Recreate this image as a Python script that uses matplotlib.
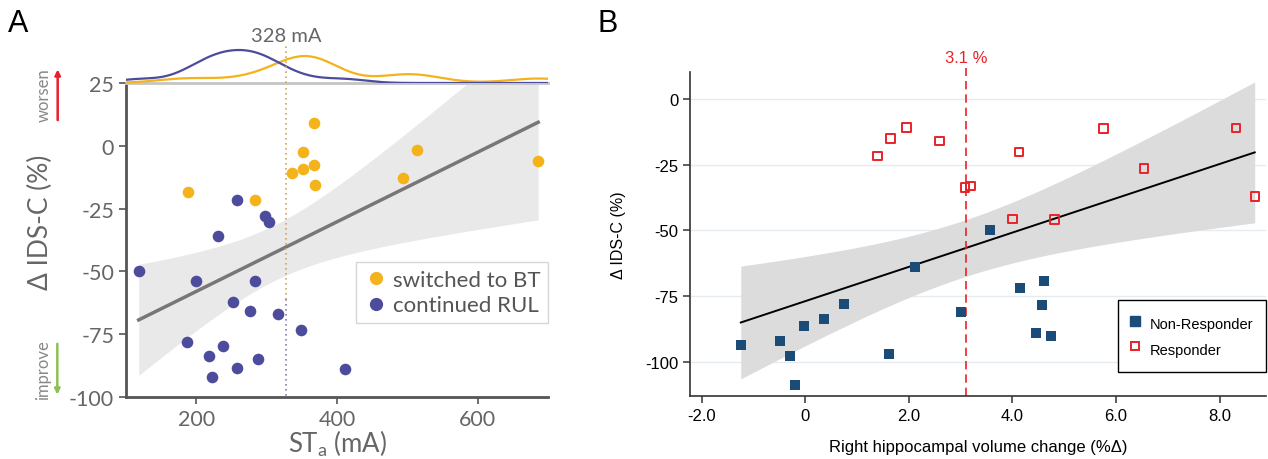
import numpy as np
import matplotlib.pyplot as plt
from matplotlib.lines import Line2D
import matplotlib.transforms as mtransforms

# ---- panel A data: stimulus amplitude vs change in IDS-C ----
bt_x = [188, 284, 336, 352, 352, 367, 367, 368, 494, 513, 686]
bt_y = [-18.5, -21.6, -10.7, -2.6, -9.3, 9.2, -7.6, -15.8, -13.0, -1.7, -6.0]
rul_x = [258, 298, 303, 231, 118, 200, 283, 252, 276, 316, 349, 187, 238, 218, 258, 288, 222, 411]
rul_y = [-21.5, -27.9, -30.2, -36.0, -50.0, -54.0, -54.0, -62.3, -65.9, -66.8, -73.3,
         -78.2, -79.7, -83.7, -88.5, -85.0, -92.2, -88.7]
thr_a = 328

# ---- panel B data: hippocampal volume change vs change in IDS-C ----
nonresp_x = [-1.25, -0.50, -0.30, -0.20, -0.02, 0.35, 0.74, 1.62, 2.12, 3.56, 3.01, 4.15, 4.60, 4.57, 4.46, 4.74]
nonresp_y = [-93.8, -92.0, -97.9, -108.9, -86.6, -83.7, -77.9, -97.2, -63.8, -49.7, -81.0, -72.0, -69.5, -78.5, -89.0, -90.2]
resp_x = [1.39, 1.64, 1.95, 2.59, 3.08, 3.19, 4.13, 4.00, 4.81, 5.76, 6.54, 8.32, 8.68]
resp_y = [-21.6, -15.0, -10.9, -16.0, -33.7, -33.0, -20.2, -45.7, -45.9, -11.2, -26.4, -11.1, -37.1]
thr_b = 3.1

T95 = 2.052  # t quantile, df = 27


def lin_ci(x, y, grid):
    x = np.asarray(x, float)
    y = np.asarray(y, float)
    b, a = np.polyfit(x, y, 1)
    res = y - (a + b * x)
    s = np.sqrt(np.sum(res ** 2) / (len(x) - 2))
    se = s * np.sqrt(1 / len(x) + (grid - x.mean()) ** 2 / np.sum((x - x.mean()) ** 2))
    fit = a + b * grid
    return fit, fit - T95 * se, fit + T95 * se


def kde(x, grid):
    x = np.asarray(x, float)
    q1, q3 = np.percentile(x, [25, 75])
    bw = 1.06 * min(x.std(ddof=1), (q3 - q1) / 1.34) * len(x) ** -0.2
    z = (grid[:, None] - x[None, :]) / bw
    return np.exp(-0.5 * z ** 2).sum(axis=1) / (len(x) * bw * np.sqrt(2 * np.pi))


YEL = '#f4b21b'
PUR = '#4d4c9c'
GREY = '#666666'

fig = plt.figure(figsize=(12.68, 4.6), dpi=100)
fa = 'Lato'

# ================= panel A =================
ax = fig.add_axes([0.0994, 0.1348, 0.3328, 0.6826])
all_x = bt_x + rul_x
all_y = bt_y + rul_y
g = np.linspace(min(all_x), max(all_x), 200)
fit, lo, hi = lin_ci(all_x, all_y, g)
ax.fill_between(g, lo, hi, color='#e9e9e9', lw=0, zorder=1)
ax.plot(g, fit, color='#777777', lw=2.5, zorder=2)
ax.scatter(bt_x, bt_y, s=70, color=YEL, lw=0, zorder=3)
ax.scatter(rul_x, rul_y, s=70, color=PUR, lw=0, zorder=3)
ax.plot([thr_a, thr_a], [25, -61], color='#d2a45a', lw=1.2, ls=(0, (1, 2)), zorder=2)
ax.plot([thr_a, thr_a], [-61, -100], color='#7f7eb8', lw=1.2, ls=(0, (1, 2)), zorder=2)
ax.set_xlim(100, 700)
ax.set_ylim(-100, 25)
ax.set_xticks([200, 400, 600])
ax.set_yticks([25, 0, -25, -50, -75, -100])
ax.set_yticklabels(['25', '0', '-25', '-50', '-75', '-100'])
ax.spines['right'].set_visible(False)
ax.spines['top'].set_color('#c4c4c4')
ax.spines['top'].set_linewidth(2)
for sp in ['left', 'bottom']:
    ax.spines[sp].set_color('#555555')
    ax.spines[sp].set_linewidth(2)
ax.tick_params(colors='#555555', labelcolor=GREY, labelsize=15.5, length=5, width=1.2)
for t in ax.get_xticklabels() + ax.get_yticklabels():
    t.set_fontfamily(fa)
ax.set_xlabel(r'ST$_\mathregular{a}$ (mA)', fontsize=18.5, color=GREY, family=fa, labelpad=-1)
ax.set_ylabel('Δ IDS-C (%)', fontsize=19, color=GREY, family=fa)
ax.yaxis.set_label_coords(-0.173, 0.56)

handles = [Line2D([], [], ls='', marker='o', ms=8.5, mfc=YEL, mec=YEL),
           Line2D([], [], ls='', marker='o', ms=8.5, mfc=PUR, mec=PUR)]
leg = ax.legend(handles, ['switched to BT', 'continued RUL'], loc='upper right',
                bbox_to_anchor=(1.0, 0.43), frameon=True, fancybox=False, edgecolor='#cccccc',
                prop={'family': fa, 'size': 16}, handletextpad=0.2, handlelength=1.1,
                borderpad=0.35, labelspacing=0.25, borderaxespad=0)
for t in leg.get_texts():
    t.set_color('#555555')

# marginal densities
axm = fig.add_axes([0.0994, 0.8174, 0.3328, 0.11])
gx = np.linspace(100, 700, 400)
d_bt = kde(bt_x, gx)
d_rul = kde(rul_x, gx)
axm.plot(gx, d_bt, color=YEL, lw=1.6)
axm.plot(gx, d_rul, color=PUR, lw=1.6)
axm.set_xlim(100, 700)
axm.set_ylim(0, d_rul.max() * 50.6 / 33)
axm.axis('off')
axm.axvline(thr_a, ymin=0, ymax=0.77, color='#d2a45a', lw=1.2, ls=(0, (1, 2)))
tr = mtransforms.blended_transform_factory(axm.transData, axm.transAxes)
axm.text(thr_a, 0.93, '328 mA', transform=tr, ha='center', va='center',
         fontsize=14.5, color=GREY, family=fa)

# worsen / improve cues
fig.text(44 / 1268, 1 - 95 / 460, 'worsen', rotation=90, ha='center', va='center',
         fontsize=12, color='#888888', family=fa)
fig.text(43 / 1268, 1 - 370 / 460, 'improve', rotation=90, ha='center', va='center',
         fontsize=12, color='#888888', family=fa)
fig.add_artist(plt.annotate('', xy=(57.7 / 1268, 1 - 68 / 460), xytext=(57.7 / 1268, 1 - 124 / 460),
                            xycoords='figure fraction',
                            arrowprops=dict(arrowstyle='-|>', color='#e8202a', lw=1.5, mutation_scale=8)))
fig.add_artist(plt.annotate('', xy=(57.3 / 1268, 1 - 398 / 460), xytext=(57.3 / 1268, 1 - 342 / 460),
                            xycoords='figure fraction',
                            arrowprops=dict(arrowstyle='-|>', color='#8cc152', lw=1.5, mutation_scale=8)))

fig.text(18 / 1268, 1 - 24 / 460, 'A', fontsize=22, ha='center', va='center', family='Liberation Sans')
fig.text(608 / 1268, 1 - 24 / 460, 'B', fontsize=22, ha='center', va='center', family='Liberation Sans')

# ================= panel B =================
fb = 'Liberation Sans'
bx = fig.add_axes([0.5442, 0.1376, 0.4543, 0.7043])
bx_all = nonresp_x + resp_x
by_all = nonresp_y + resp_y
g2 = np.linspace(min(bx_all), max(bx_all), 200)
fit2, lo2, hi2 = lin_ci(bx_all, by_all, g2)
for yv in [0, -25, -50, -75, -100]:
    bx.axhline(yv, color='#e4ecf2', lw=1, zorder=0)
bx.fill_between(g2, lo2, hi2, color='#dcdcdc', lw=0, zorder=1)
bx.plot(g2, fit2, color='black', lw=1.4, zorder=2)
bx.scatter(nonresp_x, nonresp_y, marker='s', s=48, color='#1b4c78', lw=0, zorder=3)
bx.scatter(resp_x, resp_y, marker='s', s=36, facecolor='none', edgecolor='#e8232a', lw=1.4, zorder=3)
bx.plot([thr_b, thr_b], [-113, 12], color='#e8232a', lw=1.2, ls=(0, (5, 3)), clip_on=False, zorder=2)
bx.text(thr_b, 13, '3.1 %', color='#e8232a', fontsize=12, ha='center', va='bottom', family=fb)
bx.set_xlim(-2.23, 8.9)
bx.set_ylim(-113, 10.4)
bx.set_xticks([-2, 0, 2, 4, 6, 8])
bx.set_xticklabels(['-2.0', '0', '2.0', '4.0', '6.0', '8.0'])
bx.set_yticks([0, -25, -50, -75, -100])
bx.set_yticklabels(['0', '-25', '-50', '-75', '-100'])
for sp in ['top', 'right']:
    bx.spines[sp].set_visible(False)
for sp in ['left', 'bottom']:
    bx.spines[sp].set_color('#333333')
    bx.spines[sp].set_linewidth(1.2)
bx.tick_params(labelsize=12, length=5, width=1.1, color='#333333')
for t in bx.get_xticklabels() + bx.get_yticklabels():
    t.set_fontfamily(fb)
bx.set_xlabel('Right hippocampal volume change (%Δ)', fontsize=12, family=fb, labelpad=12)
bx.set_ylabel('Δ IDS-C (%)', fontsize=11.5, family=fb, labelpad=14)

hb = [Line2D([], [], ls='', marker='s', ms=7, mfc='#1b4c78', mec='#1b4c78'),
      Line2D([], [], ls='', marker='s', ms=6, mfc='none', mec='#e8232a', mew=1.4)]
lb = bx.legend(hb, ['Non-Responder', 'Responder'], loc='upper right', bbox_to_anchor=(1.0, 0.295),
               frameon=True, fancybox=False, edgecolor='black', framealpha=1,
               prop={'family': fb, 'size': 10.5}, handletextpad=0.7, handlelength=0.6,
               handleheight=1.8, borderpad=0.89, labelspacing=0.35, borderaxespad=0)
lb.get_frame().set_linewidth(1.0)

fig.savefig('out.png', dpi=100)
